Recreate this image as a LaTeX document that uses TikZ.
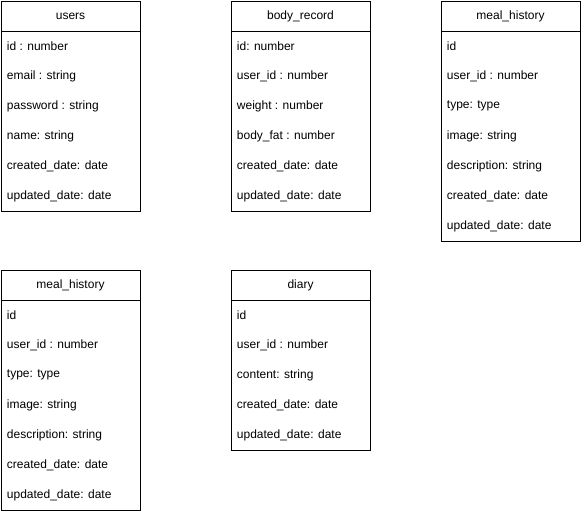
\documentclass[tikz,border=0pt]{standalone}
\usepackage{fontspec}
\setmainfont{Liberation Sans}
\begin{document}
\begin{tikzpicture}[x=0.75pt,y=-0.75pt,line width=0.75pt,font=\fontsize{9}{11}\selectfont]
\useasboundingbox(0,0)rectangle(581,511);
\foreach \n/\x/\y/\t/\rows in {users/1/1/users/{id : number,email : string,password : string,name: string,created\_date: date,updated\_date: date},
body/231/1/body\_record/{id: number,user\_id : number,weight : number,body\_fat : number,created\_date: date,updated\_date: date},
mealA/441/1/meal\_history/{id,user\_id : number,type: type,image: string,description: string,created\_date: date,updated\_date: date},
mealB/1/270/meal\_history/{id,user\_id : number,type: type,image: string,description: string,created\_date: date,updated\_date: date},
diary/231/270/diary/{id,user\_id : number,content: string,created\_date: date,updated\_date: date}}{
\node(\n-title) at (\x+69.5,\y+15){\t};
\foreach \r [count=\i] in \rows {\node[anchor=west](\n-\i) at (\x+1,\y+15+30*\i){\r};\xdef\k{\i}}
\draw(\x,\y)rectangle(\x+139,\y+30+30*\k);
\draw(\x,\y+30)--++(139,0);
}
\end{tikzpicture}
\end{document}
